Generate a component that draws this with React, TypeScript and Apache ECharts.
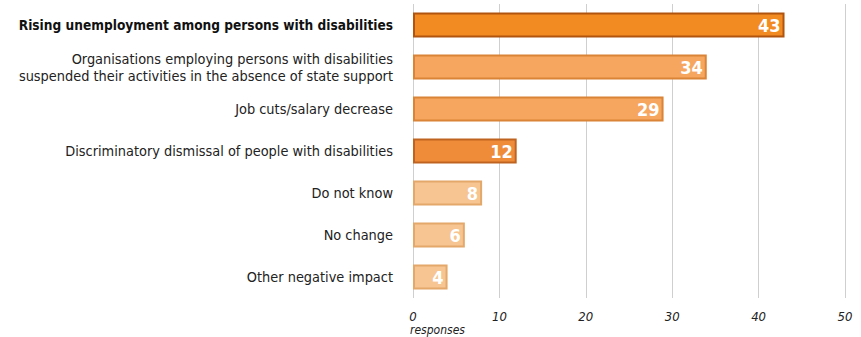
import React, { useEffect, useRef } from "react";
import * as echarts from "echarts";

const categories = [
  "Rising unemployment among persons with disabilities",
  "Organisations employing persons with disabilities\nsuspended their activities in the absence of state support",
  "Job cuts/salary decrease",
  "Discriminatory dismissal of people with disabilities",
  "Do not know",
  "No change",
  "Other negative impact",
];
const values = [43, 34, 29, 12, 8, 6, 4];
const fills = ["#F28B22", "#F6A65E", "#F6A65E", "#EF8C3A", "#F6C592", "#F6C592", "#F6C592"];
const borders = ["#B0540E", "#D98436", "#D98436", "#BF6420", "#E3A86A", "#E3A86A", "#E3A86A"];
const xTicks = [0, 10, 20, 30, 40, 50];

const FONT = "'DejaVu Sans Condensed', Roboto, sans-serif";

export default function App() {
  const ref = useRef<HTMLDivElement>(null);
  useEffect(() => {
    if (!ref.current) return;
    const chart = echarts.init(ref.current, undefined, { renderer: "svg" });
    chart.setOption({
      animation: false,
      grid: {
        left: 413,
        right: 16,
        top: 4,
        bottom: 39,
        containLabel: false,
        outerBoundsMode: "none",
      },
      xAxis: {
        type: "value",
        min: xTicks[0],
        max: xTicks[xTicks.length - 1],
        interval: 10,
        axisLine: { show: false },
        axisTick: { show: false },
        splitLine: { show: true, lineStyle: { color: "#cfcfcf", width: 1 } },
        axisLabel: {
          margin: 12,
          color: "#222",
          fontStyle: "italic",
          fontSize: 13,
          fontFamily: FONT,
        },
      },
      yAxis: {
        type: "category",
        inverse: true,
        data: categories,
        axisLine: { show: false },
        axisTick: { show: false },
        axisLabel: {
          margin: 20,
          color: "#222",
          fontSize: 14.4,
          lineHeight: 17,
          fontFamily: FONT,
          formatter: (v: string, i: number) => (i === 0 ? "{b|" + v + "}" : v),
          rich: {
            b: { fontWeight: "bold", fontSize: 13.6, color: "#111", fontFamily: FONT },
          },
        },
      },
      graphic: [
        {
          type: "text",
          left: 410,
          top: 324,
          style: {
            text: "responses",
            fill: "#222",
            fontStyle: "italic",
            fontSize: 12,
            fontFamily: FONT,
          },
        },
      ],
      series: [
        {
          type: "bar",
          barWidth: 25,
          data: values.map((v, i) => ({
            value: v,
            itemStyle: { color: fills[i], borderColor: borders[i], borderWidth: 2 },
          })),
          label: {
            show: true,
            position: "insideRight",
            distance: 4,
            color: "#fff",
            fontWeight: "bold",
            fontSize: 18,
            fontFamily: FONT,
          },
        },
      ],
    });
    return () => chart.dispose();
  }, []);
  return <div ref={ref} style={{ width: 861, height: 337, position: "absolute", left: 0, top: 0 }} />;
}
